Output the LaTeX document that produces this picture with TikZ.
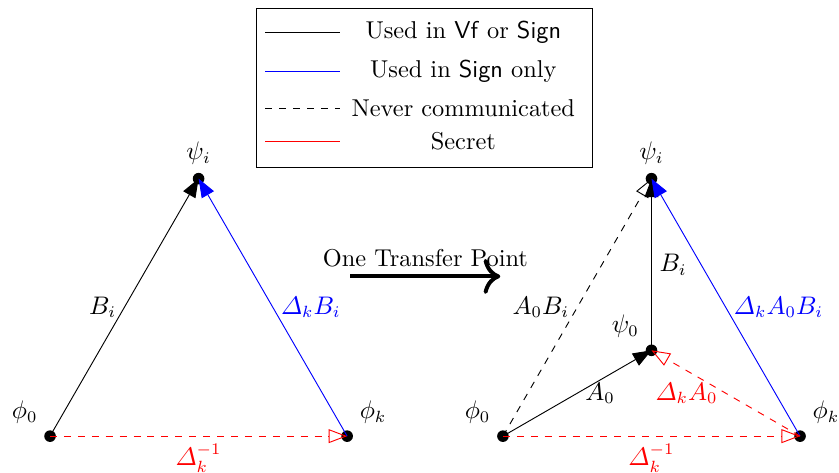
\documentclass[tikz,border=0pt]{standalone}
\usepackage{amsmath}
\usetikzlibrary{arrows.meta, positioning, calc}

\tikzset{
  pt/.style={circle, fill, inner sep=0pt, minimum size=5pt},
  sol/.style={-{Triangle[length=8pt,width=6pt]}},
  hol/.style={-{Triangle[open,length=8pt,width=6pt]}},
  secret/.style={hol, red, dashed},
}

\begin{document}
\begin{tikzpicture}[font=\fontsize{10.5pt}{12.6pt}\selectfont]
\useasboundingbox (-0.758,-0.545) rectangle (11.95,6.606);

% legend
\node[draw, minimum width=5.08cm, minimum height=2.41cm] (legend) at (5.674,5.28) {};
\draw (3.26,6.11) -- (4.39,6.11);
\draw[blue] (3.26,5.525) -- (4.39,5.525);
\draw[dashed] (3.26,4.96) -- (4.39,4.96);
\draw[red] (3.26,4.465) -- (4.39,4.465);
\node (keyvf) at (6.26,6.11) {Used in \textsf{Vf} or \textsf{Sign}};
\node (keysign) at (6.26,5.53) {Used in \textsf{Sign} only};
\node (keynever) at (6.26,4.96) {Never communicated};
\node (keysecret) at (6.26,4.47) {Secret};

% before
\node[pt, label=above left:$\phi_0$] (phi0) at (0,0) {};
\node[pt, label=above right:$\phi_k$] (phik) at (4.5,0) {};
\node[pt, label=above:$\psi_i$] (psii) at (2.25,3.9) {};

\draw[sol] (phi0.center) -- (psii.center) node[midway, left] {$B_i$};
\draw[sol, blue] (phik.center) -- (psii.center) node[midway, right] {$\varDelta_k B_i$};
\draw[secret] (phi0.center) -- (phik.center) node[midway, below] {$\varDelta_k^{-1}$};

% transfer
\coordinate (tfrom) at (4.55,2.42);
\coordinate (tto) at (6.82,2.42);
\draw[line width=1.7pt, -{Computer Modern Rightarrow[scale=1.35]}] (tfrom) -- (tto) node[midway, above] {One Transfer Point};

% after
\node[pt, label=above left:$\phi_0$] (phi0r) at (6.86,0) {};
\node[pt, label=above right:$\phi_k$] (phikr) at (11.36,0) {};
\node[pt, label=above:$\psi_i$] (psiir) at (9.11,3.9) {};
\node[pt, label=above left:$\psi_0$] (psi0) at (9.11,1.3) {};

\draw[sol] (phi0r.center) -- (psi0.center) node[midway, right] {$A_0$};
\draw[sol] (psi0.center) -- (psiir.center) node[midway, right] {$B_i$};
\draw[hol, dashed] (phi0r.center) -- (psiir.center) node[midway, left] {$A_0B_i$};
\draw[sol, blue] (phikr.center) -- (psiir.center) node[midway, right] {$\varDelta_k A_0B_i$};
\draw[secret] (phikr.center) -- (psi0.center) node[midway, left] {$\varDelta_k A_0$};
\draw[secret] (phi0r.center) -- (phikr.center) node[midway, below] {$\varDelta_k^{-1}$};
\end{tikzpicture}
\end{document}
